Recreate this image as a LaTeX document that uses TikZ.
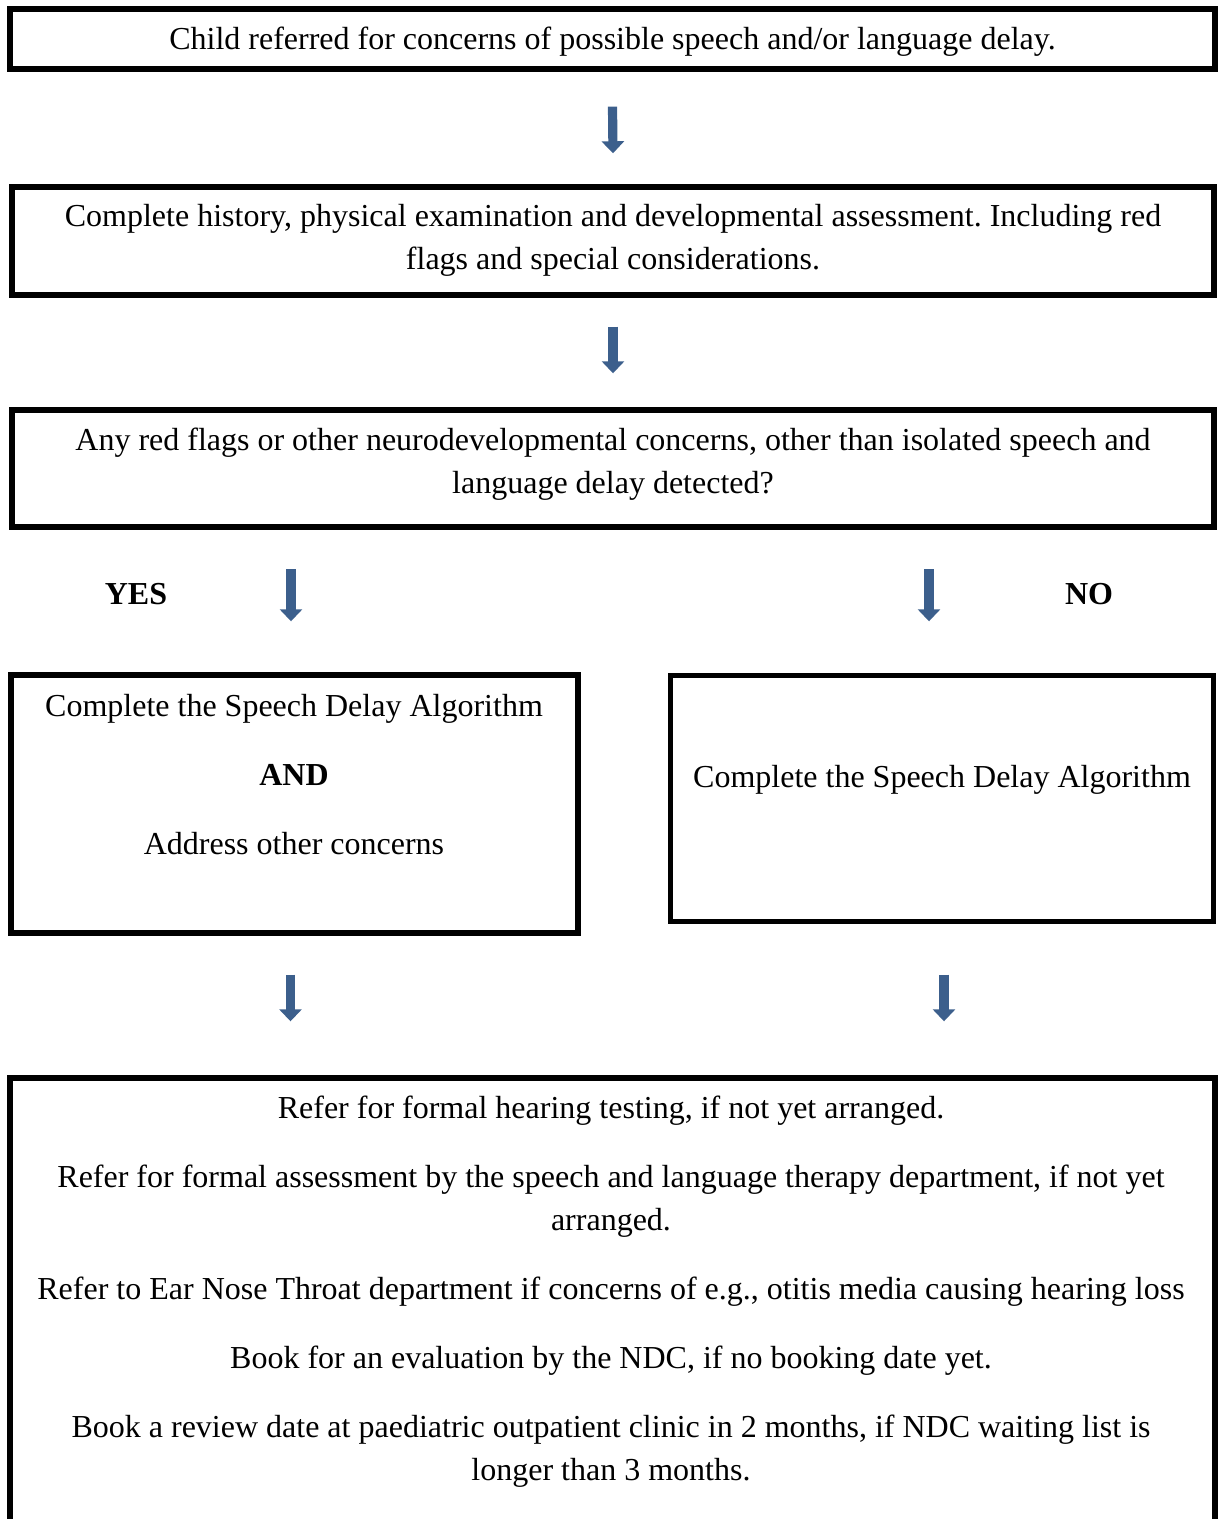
\documentclass[tikz,border=0pt]{standalone}
\usepackage{fontspec}
\setmainfont{Liberation Serif}
\usetikzlibrary{arrows.meta,calc}
\definecolor{arrowblue}{RGB}{60,95,140}
\tikzset{>=Triangle}
\frenchspacing

\begin{document}
\begin{tikzpicture}[x=0.5pt,y=-0.5pt,
        box/.style={draw, line width=2.7pt, inner sep=0pt},
        txt/.style={align=center, inner sep=0pt, font=\fontsize{16}{21.5}\selectfont},
        down/.style={draw=arrowblue, line width=4.6pt, -{Triangle[width=11pt,length=6pt]}}]
                \clip (0,0) rectangle (1219,1519);
                % boxes
                \node[box, minimum width=602.5pt, minimum height=30pt] (b1) at (612.5,39) {};
                \node[box, minimum width=601pt, minimum height=54pt] (b2) at (613,241) {};
                \node[box, minimum width=601pt, minimum height=58.5pt] (b3) at (613,468.5) {};
                \node[box, minimum width=283.5pt, minimum height=129pt] (b4) at (294.5,804) {};
                \node[box, minimum width=271.5pt, minimum height=123pt] (b5) at (942,798.5) {};
                \node[box, minimum width=602.5pt, minimum height=261pt] (b6) at (612.5,1339) {};
                % texts
                \node[txt, anchor=base] (t1) at (612.5,50)
                    {Child referred for concerns of possible speech and/or language delay.};
                \node[txt, anchor=north] (t2) at (613,204)
                    {Complete history, physical examination and developmental assessment. Including red\\
                     flags and special considerations.};
                \node[txt, anchor=north] (t3) at (613,428)
                    {Any red flags or other neurodevelopmental concerns, other than isolated speech and\\
                     language delay detected?};
                \node[txt, anchor=north] (t4) at (294,694)
                    {Complete the Speech Delay Algorithm\\[13pt]
                     \textbf{AND}\\[13pt]
                     Address other concerns};
                \node[txt, anchor=base] (t5) at (942,787) {Complete the Speech Delay Algorithm};
                \node[txt, anchor=north] (t6) at (611,1096)
                    {Refer for formal hearing testing, if not yet arranged.\\[13pt]
                     Refer for formal assessment by the speech and language therapy department, if not yet\\
                     arranged.\\[13pt]
                     Refer to Ear Nose Throat department if concerns of e.g., otitis media causing hearing loss\\[13pt]
                     Book for an evaluation by the NDC, if no booking date yet.\\[13pt]
                     Book a review date at paediatric outpatient clinic in 2 months, if NDC waiting list is\\
                     longer than 3 months.};
                \node[txt, anchor=base, font=\fontsize{16}{21.5}\selectfont\bfseries] (yes) at (136,604) {YES};
                \node[txt, anchor=base, font=\fontsize{16}{21.5}\selectfont\bfseries] (no) at (1089,604) {NO};
                % arrows
                \draw[down] ($(b1.south)+(0,35)$) -- ($(b2.north)+(0,-31)$);
                \draw[down] ($(b2.south)+(0,29)$) -- ($(b3.north)+(0,-34)$);
                \draw[down] ($(b4.north)+(-3.5,-103)$) -- ($(b4.north)+(-3.5,-51)$);
                \draw[down] ($(b5.north)+(-13,-103.5)$) -- ($(b5.north)+(-13,-51.5)$);
                \draw[down] ($(b4.south)+(-4,39)$) -- ($(b6.north)+(-322,-54)$);
                \draw[down] ($(b5.south)+(2,50.5)$) -- ($(b6.north)+(331.5,-54)$);
\end{tikzpicture}
\end{document}
